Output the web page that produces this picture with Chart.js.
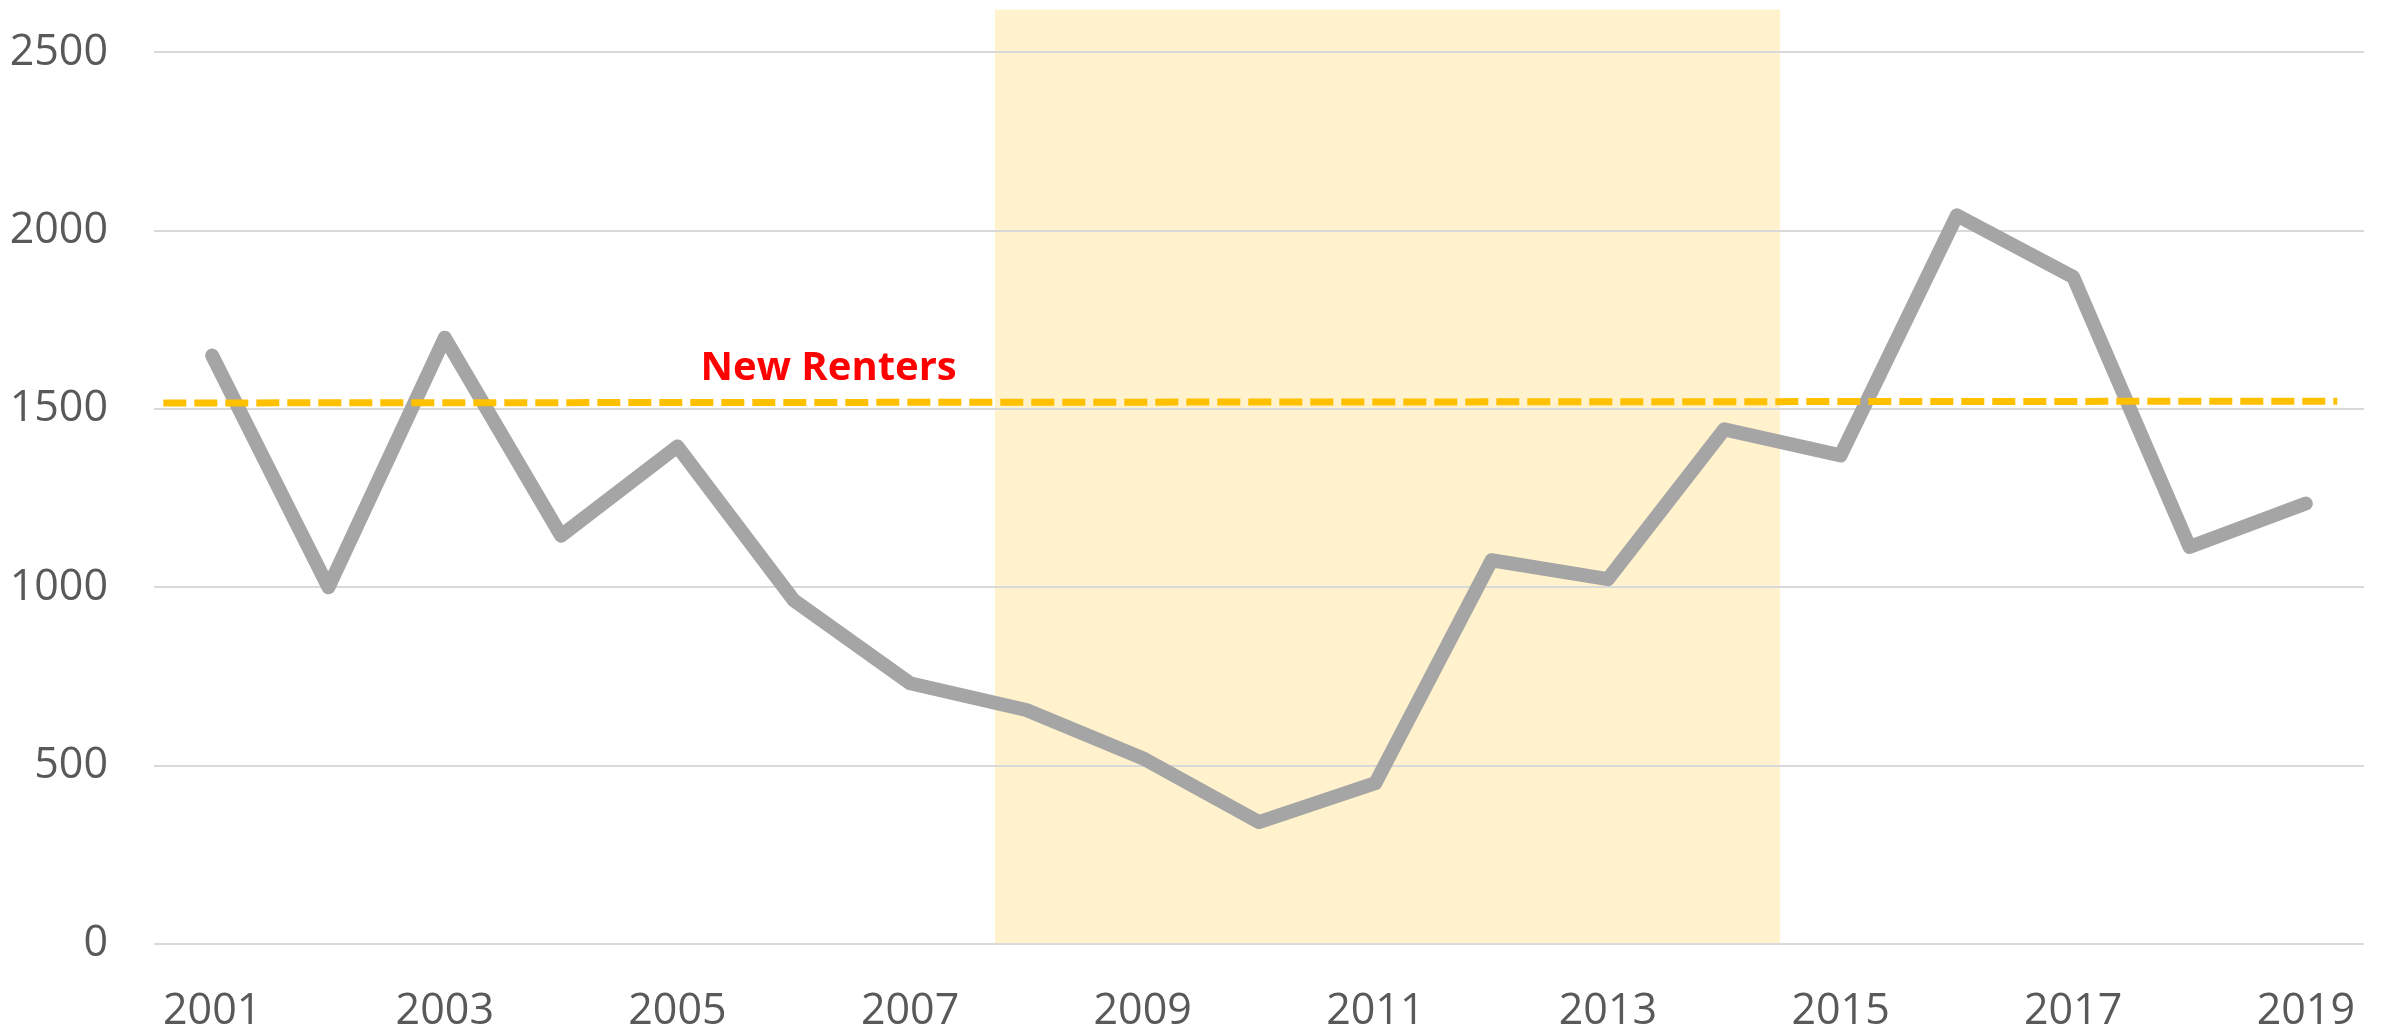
<!DOCTYPE html>
<html>
<head>
<meta charset="utf-8">
<script src="https://cdn.jsdelivr.net/npm/chart.js@4/dist/chart.umd.min.js"></script>
<style>
    body { margin: 0; background: #ffffff; }
    canvas { display: block; }
</style>
</head>
<body>
<canvas id="rentChart" width="2390" height="1029"></canvas>
<script>
// data
var years = [2001, 2002, 2003, 2004, 2005, 2006, 2007, 2008, 2009, 2010,
    2011, 2012, 2013, 2014, 2015, 2016, 2017, 2018, 2019];
var values = [1650, 1000, 1700, 1145, 1395, 964, 731, 656, 521, 342,
    451, 1076, 1023, 1443, 1370, 2043, 1870, 1113, 1235];

// dashed "new renters" level (start / end)
var renterX = [2000.58, 2019.27];
var renterY = [1517, 1522];

// shaded period
var bandFrom = 2007.73;
var bandTo = 2014.48;
var bandTop = 2620;

var yTicks = [0, 500, 1000, 1500, 2000, 2500];
var xTicks = [2001, 2003, 2005, 2007, 2009, 2011, 2013, 2015, 2017, 2019];

var labelText = 'New Renters';
var labelX = 2006.3;
var labelY = 1580;

function toPoints(xs, ys) {
    return xs.map(function (x, i) { return {x: x, y: ys[i]}; });
}

// band behind the grid
var bandPlugin = {
    id: 'band',
    beforeDraw: function (chart) {
        var ctx = chart.ctx;
        var x = chart.scales.x;
        var y = chart.scales.y;
        var left = x.getPixelForValue(bandFrom);
        var right = x.getPixelForValue(bandTo);
        var top = y.getPixelForValue(bandTop);
        var bottom = y.getPixelForValue(0);
        ctx.save();
        ctx.fillStyle = '#FFF2CC';
        ctx.fillRect(left, top, right - left, bottom - top);
        ctx.restore();
    }
};

// red text over the dashed line
var labelPlugin = {
    id: 'renterLabel',
    afterDatasetsDraw: function (chart) {
        var ctx = chart.ctx;
        ctx.save();
        ctx.font = 'bold 40px "Open Sans"';
        ctx.fillStyle = '#FF0000';
        ctx.textAlign = 'center';
        ctx.textBaseline = 'alphabetic';
        ctx.fillText(labelText, chart.scales.x.getPixelForValue(labelX), chart.scales.y.getPixelForValue(labelY));
        ctx.restore();
    }
};

var ctx = document.getElementById('rentChart').getContext('2d');

var rentChart = new Chart(ctx, {
    type: 'line',
    data: {
        datasets: [{
            data: toPoints(years, values),
            borderColor: '#A5A5A5',
            borderWidth: 14,
            borderJoinStyle: 'round',
            borderCapStyle: 'round',
            pointRadius: 0,
            tension: 0,
            order: 2
        }, {
            data: toPoints(renterX, renterY),
            borderColor: '#FFC000',
            borderWidth: 7,
            borderDash: [23, 8],
            pointRadius: 0,
            tension: 0,
            order: 1
        }]
    },
    options: {
        responsive: false,
        animation: false,
        layout: {
            padding: {top: 6, right: 26, bottom: 0, left: 0}
        },
        plugins: {
            legend: {display: false},
            tooltip: {enabled: false}
        },
        scales: {
            x: {
                type: 'linear',
                min: 2000.5,
                max: 2019.5,
                afterBuildTicks: function (axis) {
                    axis.ticks = xTicks.map(function (v) { return {value: v}; });
                },
                afterFit: function (axis) {
                    axis.height = 85;
                    axis.paddingLeft = 0;
                    axis.paddingRight = 0;
                },
                grid: {display: false},
                border: {display: false},
                ticks: {
                    padding: 34,
                    maxRotation: 0,
                    autoSkip: false,
                    color: '#595959',
                    font: {family: '"Open Sans"', size: 43},
                    callback: function (v) { return String(v); }
                }
            },
            y: {
                min: 0,
                max: 2630,
                afterBuildTicks: function (axis) {
                    axis.ticks = yTicks.map(function (v) { return {value: v}; });
                },
                afterFit: function (axis) {
                    axis.width = 154;
                    axis.paddingTop = 0;
                    axis.paddingBottom = 0;
                },
                grid: {color: '#D9D9D9', lineWidth: 2, drawTicks: false},
                border: {display: false},
                ticks: {
                    padding: 46,
                    color: '#595959',
                    font: {family: '"Open Sans"', size: 43},
                    callback: function (v) { return String(v); }
                }
            }
        }
    },
    plugins: [bandPlugin, labelPlugin]
});
</script>
</body>
</html>
